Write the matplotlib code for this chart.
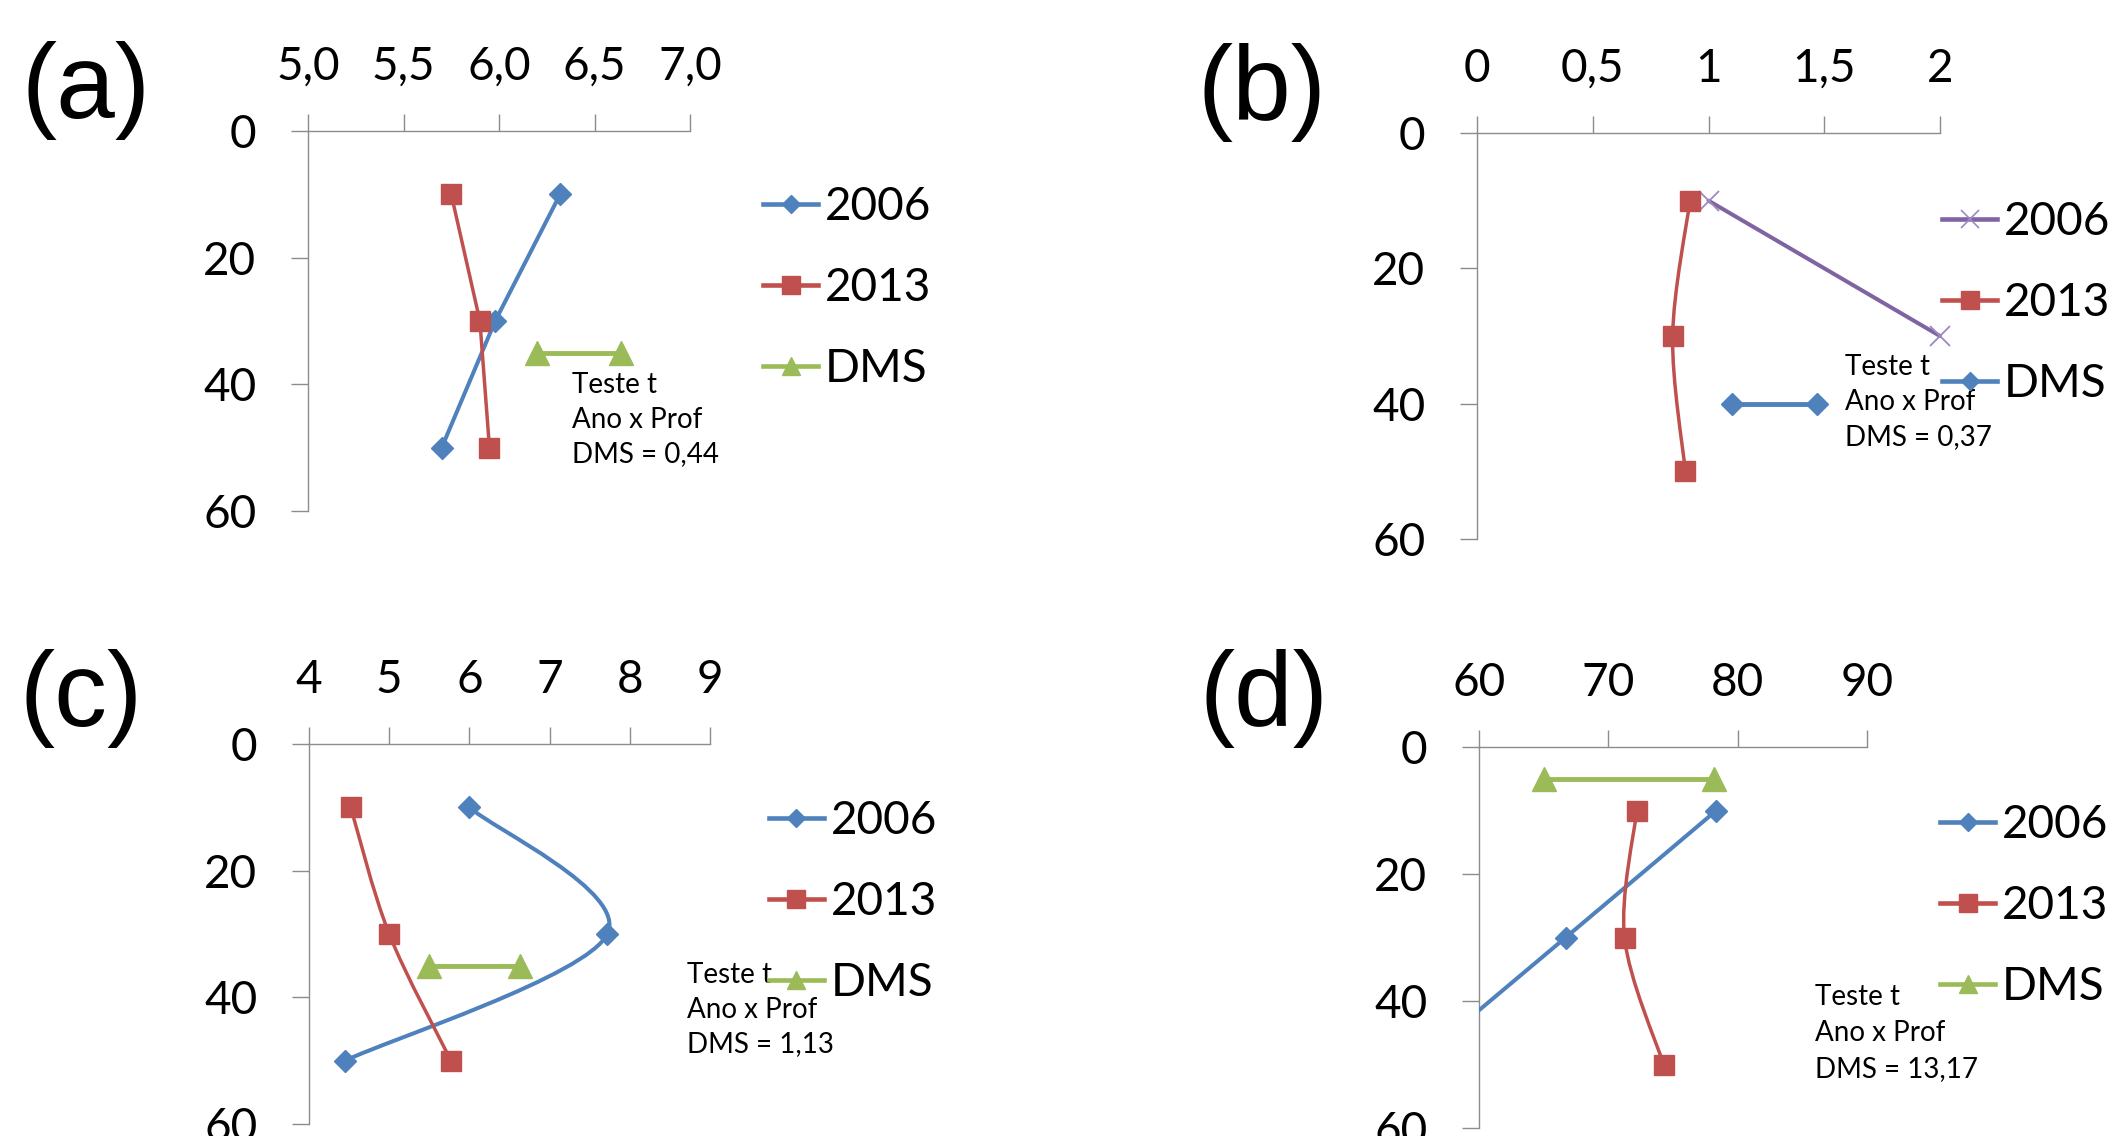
import numpy as np
import matplotlib
matplotlib.use("Agg")
import matplotlib.pyplot as plt
from matplotlib.path import Path
from matplotlib.patches import PathPatch
from matplotlib.lines import Line2D

plt.rcParams['font.family'] = ['Lato', 'DejaVu Sans']

W, H, DPI = 2116, 1136, 100

# ---------------- data ----------------
depth = [10, 30, 50]
yticks = [0, 20, 40, 60]
series_labels = ["2006", "2013", "DMS"]

# (a)
a_x2006 = [6.32, 5.98, 5.70]
a_x2013 = [5.75, 5.90, 5.95]
a_dms_x = [6.20, 6.64]
a_dms_depth = [35, 35]
a_xticks = [5.0, 5.5, 6.0, 6.5, 7.0]
a_xticklabels = ["5,0", "5,5", "6,0", "6,5", "7,0"]
a_note = ["Teste t", "Ano x Prof", "DMS = 0,44"]

# (b)
b_depth2006 = [10, 30]
b_x2006 = [1.0, 2.0]
b_x2013 = [0.92, 0.845, 0.90]
b_dms_x = [1.10, 1.47]
b_dms_depth = [40, 40]
b_xticks = [0, 0.5, 1, 1.5, 2]
b_xticklabels = ["0", "0,5", "1", "1,5", "2"]
b_note = ["Teste t", "Ano x Prof", "DMS = 0,37"]

# (c)
c_x2006 = [6.00, 7.72, 4.45]
c_x2013 = [4.52, 5.00, 5.77]
c_dms_x = [5.50, 6.63]
c_dms_depth = [35, 35]
c_xticks = [4, 5, 6, 7, 8, 9]
c_xticklabels = ["4", "5", "6", "7", "8", "9"]
c_note = ["Teste t", "Ano x Prof", "DMS = 1,13"]

# (d)
d_x2006 = [78.35, 66.70, 55.0]
d_x2013 = [72.20, 71.25, 74.27]
d_dms_x = [65.02, 78.19]
d_dms_depth = [5, 5]
d_xticks = [60, 70, 80, 90]
d_xticklabels = ["60", "70", "80", "90"]
d_note = ["Teste t", "Ano x Prof", "DMS = 13,17"]

BLUE, RED, GREEN, PURPLE = "#4F81BD", "#C0504D", "#9BBB59", "#8064A2"
GRAY = "#8C8C8C"

# ---------------- layout (pixels) ----------------
panels = [
    dict(tag="(a)", box=(308, 690, 131, 511), xlim=(5.0, 7.0), xticks=a_xticks, xtl=a_xticklabels,
         s2006=(a_x2006, depth, BLUE, "D", False), s2013=(a_x2013, depth, False),
         dms=(a_dms_x, a_dms_depth, GREEN, "^"), note=a_note, note_pos=(572, 393, 34.5),
         leg=(763, 288), label_pos=(21, 90)),
    dict(tag="(b)", box=(1477, 1940, 133, 539), xlim=(0, 2), xticks=b_xticks, xtl=b_xticklabels,
         s2006=(b_x2006, b_depth2006, PURPLE, "x", False), s2013=(b_x2013, depth, True),
         dms=(b_dms_x, b_dms_depth, BLUE, "D"), note=b_note, note_pos=(1845, 375, 35),
         leg=(1942, 303), label_pos=(1197, 93)),
    dict(tag="(c)", box=(309, 710, 744, 1124), xlim=(4, 9), xticks=c_xticks, xtl=c_xticklabels,
         s2006=(c_x2006, depth, BLUE, "D", True), s2013=(c_x2013, depth, True),
         dms=(c_dms_x, c_dms_depth, GREEN, "^"), note=c_note, note_pos=(687, 983, 34.5),
         leg=(769, 902), label_pos=(20, 698)),
    dict(tag="(d)", box=(1479, 1867, 747, 1128), xlim=(60, 90), xticks=d_xticks, xtl=d_xticklabels,
         s2006=(d_x2006, depth, BLUE, "D", True), s2013=(d_x2013, depth, True),
         dms=(d_dms_x, d_dms_depth, GREEN, "^"), note=d_note, note_pos=(1815, 1005, 36),
         leg=(1940, 906), label_pos=(1200, 698)),
]


def smooth_path(xs, ys):
    pts = np.column_stack([xs, ys]).astype(float)
    n = len(pts)
    verts = [pts[0]]
    codes = [Path.MOVETO]
    for i in range(n - 1):
        p0 = pts[i - 1] if i > 0 else pts[i]
        p1, p2 = pts[i], pts[i + 1]
        p3 = pts[i + 2] if i + 2 < n else pts[i + 1]
        verts += [p1 + (p2 - p0) / 6.0, p2 - (p3 - p1) / 6.0, p2]
        codes += [Path.CURVE4] * 3
    return Path(verts, codes)


MARK = {"D": dict(ms=11.5), "s": dict(ms=15), "^": dict(ms=17), "x": dict(ms=14, mew=1.3)}


def draw(ax, xs, ys, color, marker, smooth, lw, xlim, z):
    clip = not all(xlim[0] <= v <= xlim[1] for v in xs)
    mk = dict(MARK[marker])
    mcol = "#9D88C2" if marker == "x" else color
    if smooth and len(xs) > 2:
        ax.add_patch(PathPatch(smooth_path(xs, ys), fill=False, edgecolor=color, lw=lw,
                               clip_on=clip, zorder=z, capstyle="round", joinstyle="round"))
        ax.plot(xs, ys, ls="none", marker=marker, color=mcol, clip_on=clip, zorder=z + 0.1, **mk)
    else:
        ax.plot(xs, ys, color=color, lw=lw, clip_on=clip, zorder=z, solid_capstyle="round")
        ax.plot(xs, ys, ls="none", marker=marker, color=mcol, clip_on=clip, zorder=z + 0.1, **mk)


def handle(color, marker, ms):
    kw = dict(color=color, lw=3.3, marker=marker, ms=ms)
    if marker == "x":
        kw.update(mew=1.2, markeredgecolor="#9D88C2")
    return Line2D([], [], **kw)


fig = plt.figure(figsize=(W / DPI, H / DPI), dpi=DPI)

for p in panels:
    l, r, t, b = p["box"]
    ax = fig.add_axes([l / W, 1 - b / H, (r - l) / W, (b - t) / H])
    ax.set_facecolor("none")
    ax.set_xlim(*p["xlim"])
    ax.set_ylim(60, 0)
    for s in ("right", "bottom"):
        ax.spines[s].set_visible(False)
    for s in ("top", "left"):
        ax.spines[s].set_color(GRAY)
        ax.spines[s].set_linewidth(1.0)
    ax.xaxis.set_ticks_position("top")
    ax.set_xticks(p["xticks"])
    ax.set_xticklabels(p["xtl"])
    ax.set_yticks(yticks)
    ax.set_yticklabels([str(v) for v in yticks])
    ax.tick_params(axis="both", direction="out", length=12.2, width=1.0, color=GRAY,
                   labelsize=33, labelcolor="black")
    ax.tick_params(axis="x", pad=19)
    ax.tick_params(axis="y", pad=25)

    x6, y6, c6, m6, sm6 = p["s2006"]
    draw(ax, x6, y6, c6, m6, sm6, 2.9, p["xlim"], 3)
    x13, y13, sm13 = p["s2013"]
    draw(ax, x13, y13, RED, "s", sm13, 2.5, p["xlim"], 4)
    xd, yd, cd, md = p["dms"]
    draw(ax, xd, yd, cd, md, False, 3.5, p["xlim"], 5)

    nx, ny, pitch = p["note_pos"]
    for i, line in enumerate(p["note"]):
        ax.text(nx / W, 1 - (ny + i * pitch) / H, line, transform=fig.transFigure,
                fontsize=20, ha="left", va="baseline", clip_on=False, zorder=2)

    hs = [handle(c6, m6, 13 if m6 == "x" else 9.5),
          handle(RED, "s", 13.5),
          handle(cd, md, 9.5 if md == "D" else 12.5)]
    lx, ly = p["leg"]
    leg = ax.legend(hs, series_labels, loc="center left", bbox_to_anchor=(lx / W, 1 - ly / H),
                    bbox_transform=fig.transFigure, frameon=False, fontsize=33,
                    handlelength=1.2, handletextpad=0.15, labelspacing=0.85,
                    borderpad=0, borderaxespad=0)
    leg.set_zorder(6)

    tx, ty = p["label_pos"]
    fig.text(tx / W, 1 - ty / H, p["tag"], fontsize=76, family="Liberation Sans",
             ha="left", va="center")

fig.savefig("out.png", dpi=DPI)
